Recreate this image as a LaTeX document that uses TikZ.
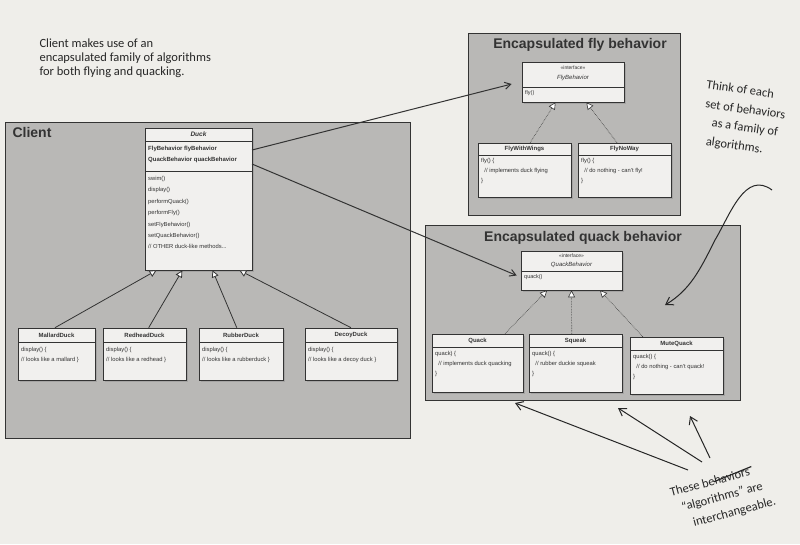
\documentclass[tikz,border=0pt]{standalone}
\usepackage{fontspec}
\setmainfont{Liberation Sans}
\newfontfamily\hand{Carlito}
\usetikzlibrary{fit,shadows,calc,arrows.meta}
\definecolor{page}{HTML}{EFEEEA}
\definecolor{grp}{HTML}{B9B8B6}
\definecolor{clsf}{HTML}{F1F0EE}
\definecolor{ink}{HTML}{333333}
\tikzset{
  grpbox/.style={draw=ink, line width=1pt, fill=grp},
  cls/.style={draw=ink, line width=0.6pt, fill=clsf, inner sep=0pt,
    drop shadow={shadow xshift=2pt, shadow yshift=-2pt, opacity=0.35}},
  ctext/.style={font=\fontsize{5.5}{7}\selectfont, text=ink, anchor=north west, align=left, inner sep=0pt},
  ctitle/.style={font=\fontsize{6}{7}\selectfont\bfseries, text=ink, inner sep=0pt},
  realize/.style={draw=ink, densely dotted, line width=0.6pt, -{Triangle[open, fill=white, length=7pt, width=7pt]}},
  inherit/.style={draw=ink, line width=0.8pt, -{Triangle[open, fill=white, length=7pt, width=7pt]}},
  assoc/.style={draw=ink, line width=1pt, -{Straight Barb[length=6pt, width=7pt]}},
  handarrow/.style={draw=black!85, line width=1pt, -{Straight Barb[length=7pt, width=9pt]}},
  handtext/.style={font=\hand\fontsize{12.5}{14}\selectfont, text=black!85, align=left},
  grptitle/.style={font=\fontsize{14}{16}\selectfont\bfseries, text=black!80},
}
% #1 name, #2 x1, #3 y1, #4 x2, #5 y2, #6 header height, #7 title
\newcommand\umlcls[7]{%
  \node[cls, fit={(#2,#3)(#4,#5)}] (#1) {};
  \draw[ink, line width=0.5pt] (#2,{#3+#6}) -- (#4,{#3+#6});
  \node[ctitle] at ({(#2+#4)/2},{#3+#6/2}) {#7};
}
\begin{document}
\begin{tikzpicture}[x=1pt,y=-1pt]
\fill[page] (0,0) rectangle (800,544);
\useasboundingbox (0,0) rectangle (800,544);

% groups
\node[grpbox, fit={(5,122)(410,438)}, inner sep=0] (client) {};
\node[grptitle, anchor=west] at (9,132) {Client};
\node[grpbox, fit={(468,33)(680,215)}, inner sep=0] (flygrp) {};
\node[grptitle, anchor=center] at (580,45) {Encapsulated fly behavior};
\node[grpbox, fit={(425,225)(740,400)}, inner sep=0] (quackgrp) {};
\node[grptitle, anchor=center] at (583,238) {Encapsulated quack behavior};

% Duck
\node[cls, fit={(145,128)(252,270)}] (duck) {};
\draw[ink, line width=0.5pt] (145,141) -- (252,141);
\draw[ink, line width=0.5pt] (145,171) -- (252,171);
\node[ctitle, font=\fontsize{6.5}{7}\selectfont\bfseries\itshape] at (198.5,134.5) {Duck};
\node[ctext, font=\fontsize{6}{11}\selectfont\bfseries] at (148,146) {FlyBehavior flyBehavior\\QuackBehavior quackBehavior};
\node[ctext, font=\fontsize{5.8}{11.4}\selectfont] at (148,176) {swim()\\display()\\performQuack()\\performFly()\\setFlyBehavior()\\setQuackBehavior()\\// OTHER duck-like methods...};

% duck subclasses
\umlcls{mallard}{18}{328}{95}{380}{14}{MallardDuck}
\node[ctext, font=\fontsize{5.8}{10}\selectfont] at (21,347) {display() \{\\// looks like a mallard \}};
\umlcls{redhead}{103}{328}{186}{380}{14}{RedheadDuck}
\node[ctext, font=\fontsize{5.8}{10}\selectfont] at (106,347) {display() \{\\// looks like a redhead \}};
\umlcls{rubber}{199}{328}{283}{380}{14}{RubberDuck}
\node[ctext, font=\fontsize{5.8}{10}\selectfont] at (202,347) {display() \{\\// looks like a rubberduck \}};
\umlcls{decoy}{305}{328}{397}{380}{14}{DecoyDuck}
\node[ctext, font=\fontsize{5.8}{10}\selectfont] at (308,347) {display() \{\\// looks like a decoy duck \}};

\draw[inherit] ($(mallard.north west)!0.48!(mallard.north east)$) -- ($(duck.south west)!0.11!(duck.south east)$);
\draw[inherit] ($(redhead.north west)!0.55!(redhead.north east)$) -- ($(duck.south west)!0.35!(duck.south east)$);
\draw[inherit] ($(rubber.north west)!0.45!(rubber.north east)$) -- ($(duck.south west)!0.63!(duck.south east)$);
\draw[inherit] ($(decoy.north west)!0.5!(decoy.north east)$) -- ($(duck.south west)!0.88!(duck.south east)$);

% FlyBehavior
\node[cls, fit={(522,62)(624,102)}] (flyb) {};
\draw[ink, line width=0.5pt] (522,87) -- (624,87);
\node[ctext, anchor=center, font=\fontsize{5}{6}\selectfont] at (573,68) {<<interface>>};
\node[ctitle, font=\fontsize{6}{7}\selectfont\itshape] at (573,78) {FlyBehavior};
\node[ctext] at (525,90) {fly()};
\umlcls{wings}{478}{143}{571}{197}{12}{FlyWithWings}
\node[ctext, font=\fontsize{5.8}{10}\selectfont] at (481,158) {fly() \{\\\ \ // implements duck flying\\\}};
\umlcls{noway}{578}{143}{671}{197}{12}{FlyNoWay}
\node[ctext, font=\fontsize{5.8}{10}\selectfont] at (581,158) {fly() \{\\\ \ // do nothing - can't fly!\\\}};
\draw[realize] ($(wings.north west)!0.56!(wings.north east)$) -- ($(flyb.south west)!0.33!(flyb.south east)$);
\draw[realize] ($(noway.north west)!0.42!(noway.north east)$) -- ($(flyb.south west)!0.63!(flyb.south east)$);

% QuackBehavior
\node[cls, fit={(521,251)(622,290)}] (quackb) {};
\draw[ink, line width=0.5pt] (521,271) -- (622,271);
\node[ctext, anchor=center, font=\fontsize{5}{6}\selectfont] at (571.5,256) {<<interface>>};
\node[ctitle, font=\fontsize{6}{7}\selectfont\itshape] at (571.5,265) {QuackBehavior};
\node[ctext] at (524,274) {quack()};
\umlcls{quack}{432}{334}{523}{392}{13}{Quack}
\node[ctext, font=\fontsize{5.8}{10}\selectfont] at (435,351) {quack) \{\\\ \ // implements duck quacking\\\}};
\umlcls{squeak}{529}{334}{622}{392}{13}{Squeak}
\node[ctext, font=\fontsize{5.8}{10}\selectfont] at (532,351) {quack() \{\\\ \ // rubber duckie squeak\\\}};
\umlcls{mute}{630}{337}{723}{394}{13}{MuteQuack}
\node[ctext, font=\fontsize{5.8}{10}\selectfont] at (633,354) {quack() \{\\\ \ // do nothing - can't quack!\\\}};
\draw[realize] ($(quack.north west)!0.8!(quack.north east)$) -- ($(quackb.south west)!0.26!(quackb.south east)$);
\draw[realize] ($(squeak.north west)!0.46!(squeak.north east)$) -- ($(quackb.south west)!0.5!(quackb.south east)$);
\draw[realize] ($(mute.north west)!0.14!(mute.north east)$) -- ($(quackb.south west)!0.78!(quackb.south east)$);

% associations
\coordinate (flyattr) at (252,150);
\coordinate (quackattr) at (252,164);
\draw[assoc] (flyattr) -- ($(flyb.west)+(-10,2)$);
\draw[assoc] (quackattr) -- ($(quackb.west)+(-4,5)$);

% handwritten notes
\node[handtext, anchor=north west] (note1) at (36,35) {Client makes use of an\\encapsulated family of algorithms\\for both flying and quacking.};
\begin{scope}[shift={(744,120)}, rotate=-8, transform shape]
\node[handtext, anchor=center] (note2a) at (-8,-30) {Think of each};
\node[handtext, anchor=center] (note2b) at (0,-11) {set of behaviors};
\node[handtext, anchor=center] (note2c) at (2,8) {as a family of};
\node[handtext, anchor=center] (note2d) at (-6,27) {algorithms.};
\end{scope}
\coordinate (n2a) at (772,190);
\draw[handarrow] (n2a) .. controls (745,170) and (730,215) .. (715,240) .. controls (700,270) and (690,290) .. (665,305);
\begin{scope}[shift={(723,500)}, rotate=15, transform shape]
\node[handtext, anchor=center] (note3a) at (-8,-21) {These behaviors};
\node[handtext, anchor=center] (note3b) at (0,-3) {“algorithms” are};
\node[handtext, anchor=center] (note3c) at (8,15) {interchangeable.};
\draw[black!85, line width=1.2pt] (-4,-20) -- (36,-25);
\end{scope}
\coordinate (n3a) at (688,470);
\coordinate (n3b) at (702,462);
\coordinate (n3c) at (710,458);
\draw[handarrow] (n3a) -- (515,403);
\draw[handarrow] (n3b) -- (618,408);
\draw[handarrow] (n3c) -- (690,416);
\end{tikzpicture}
\end{document}
